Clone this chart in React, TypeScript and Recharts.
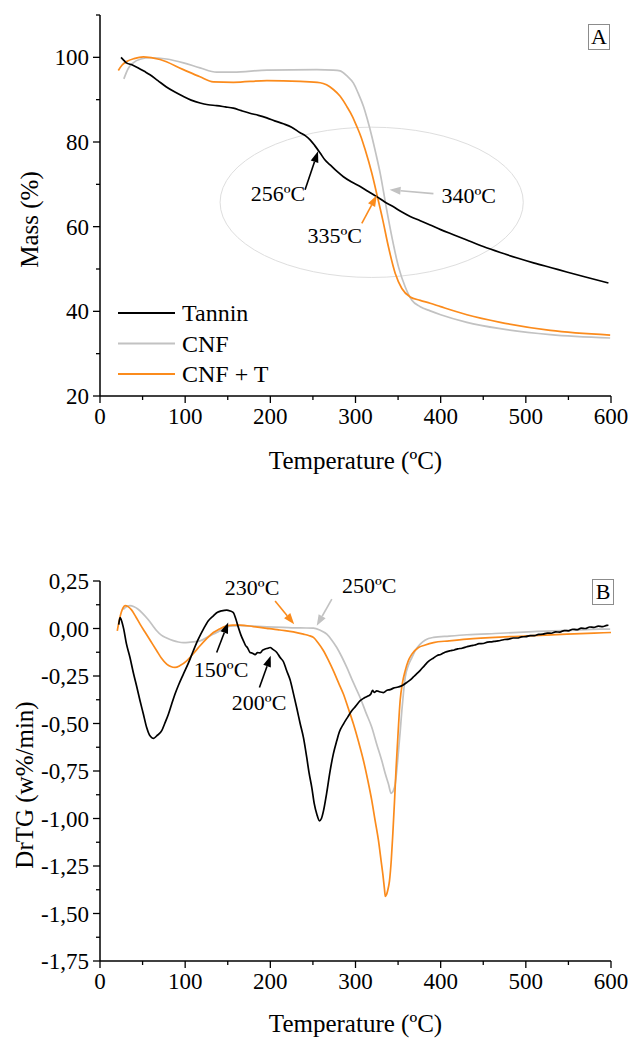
import React from "react";
import {
  LineChart,
  Line,
  XAxis,
  YAxis,
  Legend,
  ReferenceLine,
  ReferenceDot,
  ReferenceArea,
} from "recharts";

const FONT = '"Liberation Serif", "Times New Roman", serif';
const BLACK = "#000000";
const GREY = "#c2c2c2";
const ORANGE = "#fb8b1c";

const seriesNames = ["Tannin", "CNF", "CNF + T"];
const seriesColors = [BLACK, GREY, ORANGE];

const tempTicks = [0, 50, 100, 150, 200, 250, 300, 350, 400, 450, 500, 550, 600];
const massTicks = [20, 30, 40, 50, 60, 70, 80, 90, 100, 110];
const dtgTicks = [
  0.25, 0.125, 0, -0.125, -0.25, -0.375, -0.5, -0.625, -0.75, -0.875, -1,
  -1.125, -1.25, -1.375, -1.5, -1.625, -1.75,
];

// TG curves: [temperature ºC, mass %]
const tanninTg: [number, number][] = [
  [24.7, 100], [28, 99.3], [31, 98.7], [38, 98.2], [45, 97.5], [52, 96.7],
  [58.7, 95.9], [68, 94.5], [78, 93], [88, 91.8], [97.5, 90.8], [107, 89.9],
  [117.5, 89.2], [127, 88.8], [137, 88.6], [147, 88.3], [156.6, 88],
  [166, 87.4], [176, 86.8], [186, 86.3], [195.8, 85.7], [205, 85],
  [215.3, 84.3], [225, 83.5], [235, 82.2], [241, 81.5], [246.7, 80.5],
  [252, 79.2], [258.5, 77.4], [264, 75.8], [270.2, 74.6], [278, 73.1],
  [285.8, 71.8], [295, 70.6], [305.5, 69.5], [315, 68.3], [325, 67.1],
  [334, 65.9], [344.6, 64.7], [354, 63.5], [364.2, 62.4], [376, 61.4],
  [387.7, 60.4], [400, 59.3], [415, 58.1], [430, 56.9], [450, 55.3],
  [470, 53.9], [490, 52.6], [510, 51.4], [530, 50.3], [548, 49.3],
  [570, 48.1], [597, 46.7],
];

const cnfTg: [number, number][] = [
  [28, 94.9], [33, 97.3], [39, 98.7], [48, 99.6], [58.7, 99.9], [78, 99.6],
  [98, 98.7], [117.5, 97.5], [137, 96.5], [156.6, 96.5], [196, 97],
  [254.5, 97.1], [274, 97], [282, 96.8], [290, 95.6], [297.6, 93.9],
  [303, 91.6], [309.4, 88.4], [314, 85.3], [319.2, 81.3], [324, 77.2],
  [329, 72.6], [336, 64.7], [342.7, 57.6], [350.5, 50.5], [358.3, 45.8],
  [366.2, 42.6], [376, 41.1], [387.7, 40.1], [400, 39.2], [430.8, 37.4],
  [470, 35.9], [528.7, 34.5], [599, 33.7],
];

const cnfTTg: [number, number][] = [
  [21.5, 96.9], [26, 98.2], [31.3, 99], [40, 99.7], [51, 100.1], [70.5, 99.5],
  [97.9, 97.1], [117.5, 95.4], [133, 94.2], [156.6, 94.1], [196, 94.5],
  [235, 94.3], [258.5, 94], [266, 93.5], [274, 92.4], [282, 90.8],
  [289.8, 88.4], [296, 86.2], [301.5, 83.7], [306.5, 81.2], [311.3, 78.2],
  [319.2, 72.6], [325.7, 67.1], [332, 61.6], [338.6, 55.3], [346.6, 49],
  [354.4, 45.4], [364.2, 43.4], [376, 42.6], [387.7, 41.9], [400, 41.1],
  [430.8, 39.2], [470, 37.4], [528.7, 35.5], [599, 34.4],
];

// DTG curves: [temperature ºC, w%/min]
const tanninDtg: [number, number][] = [
  [22, 0.02], [23.5, 0.058], [25, 0.045], [27.8, -0.002], [31, -0.08],
  [35.2, -0.153], [39, -0.23], [43.1, -0.305], [47, -0.38], [50.9, -0.45],
  [54.8, -0.521], [58, -0.56], [60.7, -0.574], [63, -0.578], [66.6, -0.565],
  [72.5, -0.538], [76, -0.5], [80.3, -0.451], [84, -0.4], [88.1, -0.345],
  [92, -0.3], [97.9, -0.24], [104, -0.18], [109.6, -0.117], [115, -0.06],
  [121.4, -0.003], [127, 0.04], [133.1, 0.067], [138, 0.085], [142.9, 0.093],
  [148.8, 0.097], [153, 0.092], [156.6, 0.084], [159.5, 0.05], [162.5, 0.005],
  [165.5, -0.035], [168.4, -0.065], [171, -0.09], [173, -0.1], [176.2, -0.126],
  [179, -0.13], [182.1, -0.137], [185, -0.127], [188, -0.128],
  [191, -0.114], [193.9, -0.108], [197, -0.104], [199.7, -0.1], [203, -0.11],
  [207.6, -0.126], [211.5, -0.153], [215.4, -0.175], [219, -0.22],
  [223.2, -0.27], [227, -0.34], [231.1, -0.42], [235, -0.5], [238.9, -0.574],
  [242.8, -0.68], [245.5, -0.76], [248.7, -0.837], [251.5, -0.92],
  [254.6, -0.977], [257.7, -1.012], [260, -1.0], [262.4, -0.96],
  [266, -0.87], [270.2, -0.749], [274, -0.66], [278, -0.591], [281, -0.545],
  [285.8, -0.503], [291, -0.465], [295.6, -0.433], [300, -0.41],
  [305.5, -0.38], [310, -0.366], [315.3, -0.354], [318, -0.345],
  [320, -0.325], [322, -0.336], [325, -0.328], [328, -0.333], [332.8, -0.337],
  [337, -0.325], [340.7, -0.322], [344.6, -0.314], [350, -0.308],
  [355, -0.3], [360.3, -0.284], [364, -0.272], [368, -0.255], [372, -0.238],
  [376, -0.22], [381, -0.195], [386, -0.172], [391.6, -0.155], [396, -0.142],
  [400, -0.137], [405, -0.125], [411.2, -0.117], [416, -0.113],
  [420, -0.107], [425, -0.104], [430.8, -0.096], [436, -0.09], [440, -0.087],
  [445, -0.08], [450, -0.079], [455, -0.072], [460, -0.07], [465, -0.066],
  [470, -0.063], [475, -0.058], [480, -0.056], [485, -0.05], [490, -0.05],
  [495, -0.044], [500, -0.043], [505, -0.037], [510, -0.037], [515, -0.031],
  [520, -0.03], [525, -0.024], [530, -0.025], [535, -0.018], [540, -0.019],
  [545, -0.011], [550, -0.012], [555, -0.004], [560, -0.006], [565, 0.002],
  [570, 0], [575, 0.008], [580, 0.006], [585, 0.012], [590, 0.01],
  [595, 0.016], [597, 0.017],
];

const cnfDtg: [number, number][] = [
  [27.4, 0.1], [30, 0.112], [35.2, 0.12], [40, 0.114], [44, 0.104],
  [50, 0.08], [56, 0.05], [62, 0.015], [66.6, -0.012], [72, -0.035],
  [78.3, -0.05], [86, -0.064], [92, -0.071], [97.9, -0.074], [104, -0.073],
  [110, -0.07], [117.5, -0.065], [125.3, -0.047], [131, -0.034],
  [137, -0.021], [144, -0.003], [152.7, 0.012], [165, 0.015], [195.8, 0.009],
  [215, 0.006], [235, 0.003], [250.6, 0.002], [258, -0.008], [266.3, -0.03],
  [272, -0.06], [278, -0.1], [284, -0.15], [289.8, -0.205], [297, -0.28],
  [305.4, -0.363], [312, -0.44], [319.2, -0.521], [325, -0.61],
  [330.9, -0.696], [335, -0.765], [338.7, -0.819], [341.9, -0.868],
  [344.3, -0.855], [346.6, -0.819], [348.6, -0.74], [350.5, -0.644],
  [352.5, -0.54], [354.4, -0.433], [356.3, -0.34], [358.3, -0.258],
  [362, -0.195], [366.2, -0.153], [371, -0.11], [376, -0.082],
  [382, -0.06], [391.6, -0.047], [410, -0.04], [430.8, -0.033],
  [470, -0.025], [509, -0.016], [550, -0.01], [587.4, -0.003], [599, -0.003],
];

const cnfTDtg: [number, number][] = [
  [20.3, -0.012], [22.5, 0.04], [25, 0.085], [27, 0.108], [29.4, 0.12],
  [33, 0.115], [37, 0.098], [42, 0.062], [47, 0.023], [53, -0.02],
  [60, -0.07], [66.6, -0.117], [72, -0.155], [78.3, -0.187], [83, -0.2],
  [88.1, -0.205], [94, -0.195], [101.8, -0.17], [110, -0.13],
  [117.5, -0.091], [125, -0.055], [133.1, -0.021], [140, -0.003],
  [148.8, 0.014], [156, 0.018], [164.5, 0.018], [180, 0.01], [195.8, 0.001],
  [203.6, -0.003], [211, -0.008], [227, -0.018], [238.9, -0.03],
  [245, -0.037], [250.6, -0.047], [256, -0.075], [262.4, -0.117],
  [268, -0.165], [274.1, -0.223], [280, -0.285], [285.8, -0.345],
  [291.5, -0.42], [297.6, -0.503], [303.5, -0.595], [309.4, -0.696],
  [314.5, -0.8], [319.2, -0.907], [323, -1.01], [327, -1.117],
  [330, -1.22], [332.1, -1.293], [334, -1.37], [335, -1.41], [336.5, -1.4],
  [338, -1.375], [339.9, -1.328], [342, -1.22], [343.8, -1.082],
  [345.8, -0.91], [347.7, -0.732], [350, -0.55], [352.4, -0.38],
  [355, -0.29], [358.3, -0.223], [362, -0.17], [366.2, -0.135],
  [374, -0.1], [381, -0.088], [391.6, -0.074], [410, -0.065], [430.8, -0.056],
  [470, -0.045], [509, -0.038], [548.3, -0.03], [580, -0.024], [600, -0.021],
];

// annotations: arrow tail -> tip, and the text centre
const tgArrows = [
  { from: [240.8, 68.7], to: [256, 77.8], color: BLACK },
  { from: [391.5, 67.8], to: [340, 68.7], color: GREY },
  { from: [307.4, 60.8], to: [325, 67.4], color: ORANGE },
];
const tgNotes = [
  { at: [209, 68.0], text: "256ºC" },
  { at: [433, 67.5], text: "340ºC" },
  { at: [275.5, 58.0], text: "335ºC" },
];
const dtgArrows = [
  { from: [205.6, 0.145], to: [228, 0.023], color: ORANGE },
  { from: [272.2, 0.155], to: [254.5, 0.014], color: GREY },
  { from: [137, -0.126], to: [150.5, 0.032], color: BLACK },
  { from: [187.2, -0.31], to: [200.5, -0.144], color: BLACK },
];
const dtgNotes = [
  { at: [178.6, 0.216], text: "230ºC" },
  { at: [316, 0.225], text: "250ºC" },
  { at: [142.2, -0.214], text: "150ºC" },
  { at: [186.8, -0.389], text: "200ºC" },
];

const toRows = (pts: [number, number][]) => pts.map(([temp, value]) => ({ temp, value }));

const XTick = ({ x, y, payload }: any) => {
  const major = payload.value % 100 === 0;
  return (
    <g>
      <line x1={x} y1={y} x2={x} y2={y + (major ? 7 : 4)} stroke={BLACK} strokeWidth={1.3} />
      {major && (
        <text x={x} y={y + 28} textAnchor="middle" fontSize={23} fontFamily={FONT} fill={BLACK}>
          {payload.value}
        </text>
      )}
    </g>
  );
};

const makeYTick = (isMajor: (v: number) => boolean, fmt: (v: number) => string) =>
  ({ x, y, payload }: any) => {
    const major = isMajor(payload.value);
    return (
      <g>
        <line x1={x} y1={y} x2={x - (major ? 7 : 4)} y2={y} stroke={BLACK} strokeWidth={1.3} />
        {major && (
          <text x={x - 11} y={y} dy="0.35em" textAnchor="end" fontSize={23} fontFamily={FONT} fill={BLACK}>
            {fmt(payload.value)}
          </text>
        )}
      </g>
    );
  };

const MassTick = makeYTick((v) => v % 20 === 0, (v) => String(v));
const DtgTick = makeYTick(
  (v) => Math.abs(v * 4 - Math.round(v * 4)) < 1e-6,
  (v) => v.toFixed(2).replace(".", ",")
);

const XTitle = ({ viewBox, text, dy }: any) => (
  <text x={viewBox.x + viewBox.width / 2} y={viewBox.y + dy} textAnchor="middle" fontSize={25} fontFamily={FONT} fill={BLACK}>
    {text}
  </text>
);

const YTitle = ({ viewBox, text, baseX, shift }: any) => {
  const cy = viewBox.y + viewBox.height / 2 + shift;
  return (
    <text x={baseX} y={cy} transform={`rotate(-90 ${baseX} ${cy})`} textAnchor="middle" fontSize={25} fontFamily={FONT} fill={BLACK}>
      {text}
    </text>
  );
};

const arrowShape = (color: string) => (p: any) => {
  const { x1, y1, x2, y2 } = p;
  const ang = Math.atan2(y2 - y1, x2 - x1);
  const len = 11;
  const half = 4;
  const bx = x2 - len * Math.cos(ang);
  const by = y2 - len * Math.sin(ang);
  const px = -Math.sin(ang) * half;
  const py = Math.cos(ang) * half;
  return (
    <g>
      <line x1={x1} y1={y1} x2={bx} y2={by} stroke={color} strokeWidth={1.6} />
      <polygon points={`${x2},${y2} ${bx + px},${by + py} ${bx - px},${by - py}`} fill={color} />
    </g>
  );
};

const noteShape = (text: string) => (p: any) => (
  <text x={p.cx} y={p.cy} dy="0.35em" textAnchor="middle" fontSize={22} fontFamily={FONT} fill={BLACK}>
    {text}
  </text>
);

const ellipseShape = (p: any) => (
  <ellipse cx={p.x + p.width / 2} cy={p.y + p.height / 2} rx={p.width / 2} ry={p.height / 2} fill="none" stroke="#dedede" strokeWidth={1} />
);

const renderLegend = () => (
  <svg width={200} height={95}>
    {seriesNames.map((name, i) => (
      <g key={name}>
        <line x1={0} x2={57} y1={15 + i * 30.5} y2={15 + i * 30.5} stroke={seriesColors[i]} strokeWidth={1.8} />
        <text x={64} y={15 + i * 30.5} dy="0.35em" fontSize={24} fontFamily={FONT} fill={BLACK}>
          {name}
        </text>
      </g>
    ))}
  </svg>
);

const panelBox = (letter: string, left: number, top: number) => (
  <div
    style={{
      position: "absolute", left, top, width: 20, height: 24, border: "1px solid #8c8c8c",
      fontSize: 22, lineHeight: "24px", textAlign: "center", fontFamily: FONT, color: BLACK,
    }}
  >
    {letter}
  </div>
);

const tgSeries = [tanninTg, cnfTg, cnfTTg];
const dtgSeries = [tanninDtg, cnfDtg, cnfTDtg];
const drawOrder = [1, 2, 0];

export default function App() {
  return (
    <div style={{ position: "absolute", left: 0, top: 0, width: 632, height: 1039, background: "#fff", fontFamily: FONT }}>
      <div style={{ position: "absolute", left: 0, top: 0 }}>
        <LineChart width={632} height={480} margin={{ top: 15, right: 21, bottom: 0, left: 0 }}>
          <XAxis
            dataKey="temp" type="number" domain={[0, 600]} ticks={tempTicks} interval={0}
            tickSize={0} tickMargin={0} tickLine={false} tick={<XTick />} height={84}
            axisLine={{ stroke: BLACK, strokeWidth: 1.5 }} allowDataOverflow
            label={<XTitle text="Temperature (ºC)" dy={73} />}
          />
          <YAxis
            type="number" domain={[20, 110]} ticks={massTicks} interval={0} width={100}
            tickSize={0} tickMargin={0} tickLine={false} tick={<MassTick />}
            axisLine={{ stroke: BLACK, strokeWidth: 1.5 }} allowDataOverflow
            label={<YTitle text="Mass (%)" baseX={38} shift={14} />}
          />
          <ReferenceArea x1={141} x2={497} y1={48} y2={83.5} shape={ellipseShape} />
          {drawOrder.map((i) => (
            <Line
              key={seriesNames[i]} data={toRows(tgSeries[i])} dataKey="value" name={seriesNames[i]}
              type="monotone" stroke={seriesColors[i]} strokeWidth={1.7} dot={false}
              isAnimationActive={false}
            />
          ))}
          {tgArrows.map((a, i) => (
            <ReferenceLine
              key={`tga${i}`} segment={[{ x: a.from[0], y: a.from[1] }, { x: a.to[0], y: a.to[1] }]}
              shape={arrowShape(a.color)}
            />
          ))}
          {tgNotes.map((n) => (
            <ReferenceDot key={n.text} x={n.at[0]} y={n.at[1]} shape={noteShape(n.text)} />
          ))}
          <Legend
            layout="vertical" align="center" verticalAlign="middle" content={renderLegend}
            wrapperStyle={{ left: 118, top: 298, width: 200, height: 95 }}
          />
        </LineChart>
        {panelBox("A", 588, 24)}
      </div>

      <div style={{ position: "absolute", left: 0, top: 520 }}>
        <LineChart width={632} height={519} margin={{ top: 61, right: 21, bottom: 0, left: 0 }}>
          <XAxis
            dataKey="temp" type="number" domain={[0, 600]} ticks={tempTicks} interval={0}
            tickSize={0} tickMargin={0} tickLine={false} tick={<XTick />} height={78}
            axisLine={{ stroke: BLACK, strokeWidth: 1.5 }} allowDataOverflow
            label={<XTitle text="Temperature (ºC)" dy={71} />}
          />
          <YAxis
            type="number" domain={[-1.75, 0.25]} ticks={dtgTicks} interval={0} width={100}
            tickSize={0} tickMargin={0} tickLine={false} tick={<DtgTick />}
            axisLine={{ stroke: BLACK, strokeWidth: 1.5 }} allowDataOverflow
            label={<YTitle text="DrTG (w%/min)" baseX={33} shift={14} />}
          />
          {drawOrder.map((i) => (
            <Line
              key={seriesNames[i]} data={toRows(dtgSeries[i])} dataKey="value" name={seriesNames[i]}
              type="monotone" stroke={seriesColors[i]} strokeWidth={1.7} dot={false}
              isAnimationActive={false}
            />
          ))}
          {dtgArrows.map((a, i) => (
            <ReferenceLine
              key={`dta${i}`} segment={[{ x: a.from[0], y: a.from[1] }, { x: a.to[0], y: a.to[1] }]}
              shape={arrowShape(a.color)}
            />
          ))}
          {dtgNotes.map((n) => (
            <ReferenceDot key={n.text} x={n.at[0]} y={n.at[1]} shape={noteShape(n.text)} />
          ))}
        </LineChart>
        {panelBox("B", 592, 59)}
      </div>
    </div>
  );
}
